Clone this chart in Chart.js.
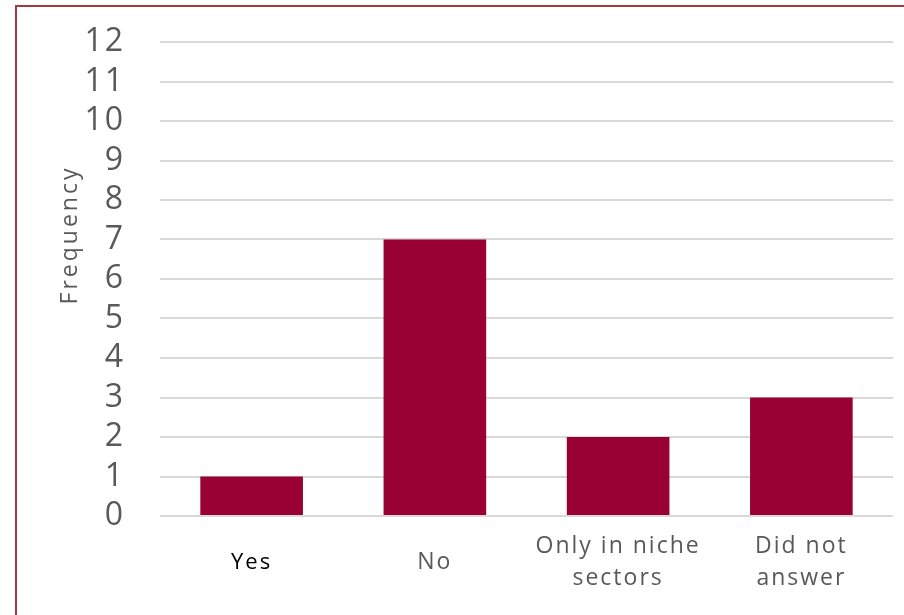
<!DOCTYPE html>
<html>
<head>
<meta charset="utf-8">
<script src="https://cdn.jsdelivr.net/npm/chart.js@4"></script>
<style>
  html, body { margin: 0; padding: 0; background: #fff; }
  #wrap { position: relative; width: 904px; height: 615px; overflow: hidden; }
  #frame {
    position: absolute; left: 15px; top: 5px; width: 1000px; height: 1000px;
    border-left: 2px solid #a03c3c; border-top: 2px solid #a03c3c;
  }
  canvas { position: absolute; left: 0; top: 0; }
</style>
</head>
<body>
<div id="wrap">
  <div id="frame"></div>
  <canvas id="myChart" width="904" height="615"></canvas>
</div>
<script>
'use strict';
// ---------- Data ------------- //
let categories = ['Yes', 'No', ['Only in niche', 'sectors'], ['Did not', 'answer']];
let frequency = [1, 7, 2, 3];
let yTicks = [0, 1, 2, 3, 4, 5, 6, 7, 8, 9, 10, 11, 12];
let yTitle = 'Frequency';

let barColor = '#990033';
let gridColor = '#d9d9d9';
let textGray = '#595959';

// rotated axis title, drawn by hand so it can sit off-centre
let yTitlePlugin = {
  id: 'yTitle',
  beforeDraw(chart){
    chart.ctx.letterSpacing = '2px';
  },
  afterDraw(chart){
    let ctx = chart.ctx;
    ctx.save();
    ctx.letterSpacing = '3px';
    ctx.translate(70, 235);
    ctx.rotate(-Math.PI / 2);
    ctx.font = '23px "Open Sans"';
    ctx.fillStyle = textGray;
    ctx.textAlign = 'center';
    ctx.textBaseline = 'middle';
    ctx.fillText(yTitle, 0, 0);
    ctx.restore();
  }
};

let chartObject = {
  type: 'bar',
  data: {
    labels: categories,
    datasets: [{
      label: yTitle,
      data: frequency,
      backgroundColor: barColor,
      borderWidth: 0,
      barPercentage: 0.56,
      categoryPercentage: 1
    }]
  },
  options: {
    responsive: false,
    animation: false,
    layout: {
      padding: { top: 42, right: 11, bottom: 0, left: 0 }
    },
    plugins: {
      legend: { display: false },
      tooltip: { enabled: false }
    },
    scales: {
      x: {
        grid: { display: false, drawTicks: false },
        border: { display: false },
        ticks: {
          padding: 30,
          crossAlign: 'center',
          maxRotation: 0,
          autoSkip: false,
          color: (c) => c.index === 0 ? '#000000' : textGray,
          font: (c) => ({ family: '"Open Sans"', size: c.index === 0 ? 22 : 23, lineHeight: 1.4 })
        },
        afterFit(scale){ scale.height = 99; }
      },
      y: {
        min: 0,
        max: 12,
        grid: { color: gridColor, lineWidth: 2, drawTicks: false },
        border: { display: false },
        afterBuildTicks(scale){
          scale.ticks = yTicks.map(v => ({ value: v }));
        },
        ticks: {
          padding: 35,
          autoSkip: false,
          color: textGray,
          font: { family: '"Open Sans"', size: 32 }
        },
        afterFit(scale){
          scale.width = 160;
          scale.paddingTop = 0;
          scale.paddingBottom = 0;
        }
      }
    }
  },
  plugins: [yTitlePlugin]
};

let ctx = document.getElementById('myChart').getContext('2d');
let myChart = new Chart(ctx, chartObject);
</script>
</body>
</html>
